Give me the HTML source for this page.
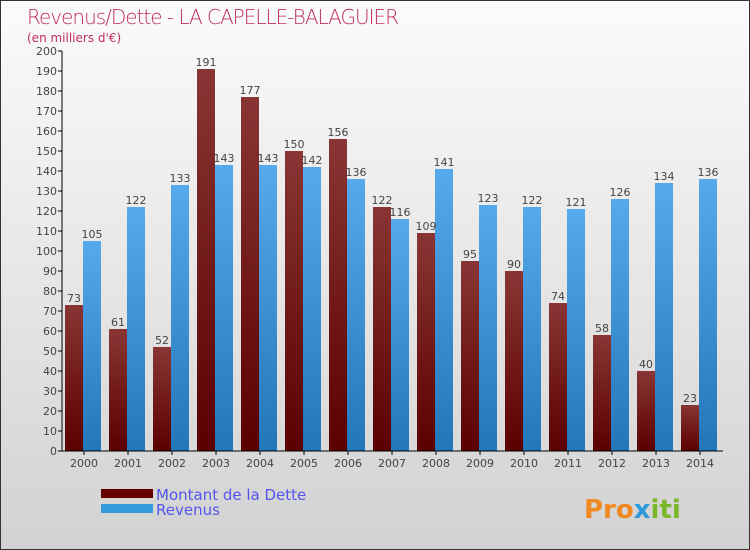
<!DOCTYPE html>
<html><head><meta charset="utf-8"><style>
body{margin:0}
#wrap{width:748px;height:548px;border:1px solid #333;position:relative;background:linear-gradient(#fbfbfb,#d2d2d2);font-family:"DejaVu Sans","Liberation Sans",sans-serif;overflow:hidden}
svg{position:absolute;left:0;top:0}
</style></head><body>
<div id="wrap">
<svg id="c" width="750" height="550">
<text x="26" y="23" font-size="20" fill="#c0305a" style="font-family:'DejaVu Sans',sans-serif;font-weight:200" textLength="372">Revenus/Dette - LA CAPELLE-BALAGUIER</text>
<text x="26" y="41" font-size="12" fill="#c0305a">(en milliers d'€)</text>
<g id="bars"></g><g id="axes"></g>
<rect x="100" y="488" width="52" height="9" fill="#600"/>
<rect x="100" y="503" width="52" height="9" fill="#3399dd"/>
<text x="155" y="499" font-size="15" fill="#5555ee">Montant de la Dette</text>
<text x="155" y="514" font-size="15" fill="#5555ee">Revenus</text>
<text x="583" y="517" font-size="26" font-weight="bold" fill="#f08a20">Pro<tspan fill="#2a9ad8">x</tspan><tspan fill="#7ab82a">iti</tspan></text>
</svg></div>
<script>
const years=["2000","2001","2002","2003","2004","2005","2006","2007","2008","2009","2010","2011","2012","2013","2014"];
const dette=[73,61,52,191,177,150,156,122,109,95,90,74,58,40,23];
const revenus=[105,122,133,143,143,142,136,116,141,123,122,121,126,134,136];
const ticks=[0,10,20,30,40,50,60,70,80,90,100,110,120,130,140,150,160,170,180,190,200];
const NS="http://www.w3.org/2000/svg";
const X0=61,GW=44,Y0=450,K=2;
const y=v=>Y0-v*K;
const gx=i=>X0+i*GW;
function mk(t,a,p){const e=document.createElementNS(NS,t);for(const k in a)e.setAttribute(k,a[k]);p.appendChild(e);return e;}
const svg=document.getElementById('c');
const defs=mk('defs',{},svg);
const g1=mk('linearGradient',{id:'gd',x1:0,y1:0,x2:0,y2:1},defs);
mk('stop',{offset:0,'stop-color':'#8a3535'},g1);mk('stop',{offset:1,'stop-color':'#5a0000'},g1);
const g2=mk('linearGradient',{id:'gr',x1:0,y1:0,x2:0,y2:1},defs);
mk('stop',{offset:0,'stop-color':'#55aaee'},g2);mk('stop',{offset:1,'stop-color':'#2277bb'},g2);
const bars=document.getElementById('bars'),axes=document.getElementById('axes');
ticks.forEach(t=>{
 const tk=mk('line',{x1:X0-4,x2:X0,y1:y(t),y2:y(t),stroke:'#000'},axes);
 
 
 const tx=mk('text',{x:X0-5,y:y(t)+4,'font-size':11,fill:'#444','text-anchor':'end'},axes);
 tx.textContent=t;
 
 
});
years.forEach((yr,i)=>{
 const x=gx(i);
 const b1=mk('rect',{x:x+3,y:y(dette[i]),width:18,height:dette[i]*K,fill:'url(#gd)'},bars);
 
 
 const b2=mk('rect',{x:x+21,y:y(revenus[i]),width:18,height:revenus[i]*K,fill:'url(#gr)'},bars);
 
 
 const t1=mk('text',{x:x+12,y:y(dette[i])-3,'font-size':11,fill:'#444','text-anchor':'middle'},bars);
 t1.textContent=dette[i];
 
 
 const t2=mk('text',{x:x+30,y:y(revenus[i])-3,'font-size':11,fill:'#444','text-anchor':'middle'},bars);
 t2.textContent=revenus[i];
 
 
 const tk=mk('line',{x1:x+GW/2,x2:x+GW/2,y1:Y0,y2:Y0+4,stroke:'#000'},axes);
 
 
 const tl=mk('text',{x:x+GW/2,y:Y0+16,'font-size':11,fill:'#444','text-anchor':'middle'},axes);
 tl.textContent=yr;
 
 
});
const ya=mk('line',{x1:X0,x2:X0,y1:y(200),y2:Y0,stroke:'#000'},axes);


const xa=mk('line',{x1:X0,x2:722,y1:Y0,y2:Y0,stroke:'#000'},axes);


</script>
</body></html>
